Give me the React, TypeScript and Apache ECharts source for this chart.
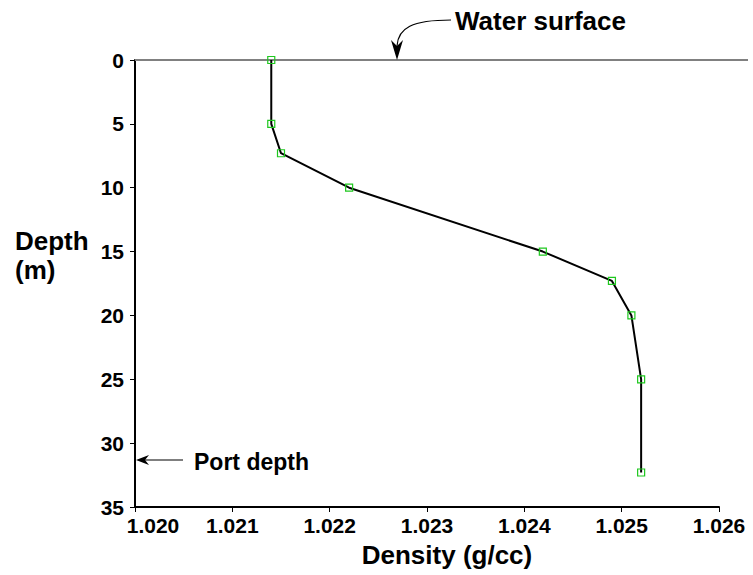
import React, { useEffect, useRef } from "react";
import * as echarts from "echarts";

const density = [1.0214, 1.0214, 1.0215, 1.0222, 1.02419, 1.0249, 1.0251, 1.0252, 1.0252];
const depth = [0, 5, 7.3, 10, 15, 17.3, 20, 25, 32.3];
const xTicks = { min: 1.02, max: 1.026, interval: 0.001 };
const yTicks = { min: 0, max: 35, interval: 5 };
const labels = {
  x: "Density (g/cc)",
  y: "Depth\n(m)",
  surface: "Water surface",
  port: "Port depth",
};

const FONT = "'Liberation Sans', Arial, sans-serif";

export default function App() {
  const ref = useRef<HTMLDivElement>(null);
  useEffect(() => {
    document.body.style.margin = "0";
    const chart = echarts.init(ref.current!, null, { renderer: "svg" });
    const data = density.map((d, i) => [d, depth[i]]);
    const tickFont = { color: "#000", fontFamily: FONT, fontWeight: "bold" as const, fontSize: 21 };
    chart.setOption({
      animation: false,
      backgroundColor: "#ffffff",
      grid: { left: 135, right: 34, top: 60, bottom: 68, containLabel: false },
      xAxis: {
        type: "value",
        min: xTicks.min,
        max: xTicks.max,
        interval: xTicks.interval,
        position: "bottom",
        axisLine: { show: true, onZero: false, lineStyle: { color: "#000", width: 2 } },
        axisTick: { show: true, inside: false, length: 5, lineStyle: { color: "#000", width: 1 } },
        splitLine: { show: false },
        axisLabel: {
          margin: 8,
          ...tickFont,
          formatter: (v: number) =>
            Math.abs(v - xTicks.min) < 1e-9 ? `{first|${v.toFixed(3)}}` : v.toFixed(3),
          rich: { first: { ...tickFont, padding: [0, 0, 0, 36] } },
        },
      },
      yAxis: {
        type: "value",
        inverse: true,
        min: yTicks.min,
        max: yTicks.max,
        interval: yTicks.interval,
        axisLine: { show: true, onZero: false, lineStyle: { color: "#000", width: 2 } },
        axisTick: { show: true, inside: false, length: 5, lineStyle: { color: "#000", width: 1 } },
        splitLine: { show: false },
        axisLabel: { margin: 11, ...tickFont },
      },
      series: [
        {
          type: "line",
          data,
          z: 5,
          symbol: "rect",
          symbolSize: 7,
          showAllSymbol: true,
          lineStyle: { color: "#000", width: 2 },
          itemStyle: { color: "transparent", borderColor: "#1ec81e", borderWidth: 1.2 },
        },
      ],
      graphic: [
        {
          type: "line",
          z: 1,
          shape: { x1: 135, y1: 60, x2: 748, y2: 60 },
          style: { stroke: "#808080", lineWidth: 2 },
        },
        {
          type: "bezierCurve",
          z: 10,
          shape: { x1: 451, y1: 20, cpx1: 412, cpy1: 20, cpx2: 398, cpy2: 28, x2: 397, y2: 46 },
          style: { stroke: "#000", lineWidth: 1.2, fill: "none" },
        },
        {
          type: "polygon",
          z: 10,
          shape: { points: [[397, 60], [391, 40], [397, 46], [403, 40]] },
          style: { fill: "#000" },
        },
        {
          type: "line",
          z: 10,
          shape: { x1: 183, y1: 460, x2: 142, y2: 460 },
          style: { stroke: "#000", lineWidth: 1.2 },
        },
        {
          type: "polygon",
          z: 10,
          shape: { points: [[136, 460], [149, 455], [145, 460], [149, 465]] },
          style: { fill: "#000" },
        },
        {
          type: "text",
          z: 10,
          x: 455,
          y: 21,
          style: {
            text: labels.surface,
            fill: "#000",
            font: `bold 26px ${FONT}`,
            textVerticalAlign: "middle",
            textAlign: "left",
          },
        },
        {
          type: "text",
          z: 10,
          x: 194,
          y: 462,
          style: {
            text: labels.port,
            fill: "#000",
            font: `bold 23px ${FONT}`,
            textVerticalAlign: "middle",
            textAlign: "left",
          },
        },
        {
          type: "text",
          z: 10,
          x: 447,
          y: 555,
          style: {
            text: labels.x,
            fill: "#000",
            font: `bold 26px ${FONT}`,
            textVerticalAlign: "middle",
            textAlign: "center",
          },
        },
        {
          type: "text",
          z: 10,
          x: 15,
          y: 226,
          style: {
            text: labels.y,
            fill: "#000",
            font: `bold 26px ${FONT}`,
            lineHeight: 29,
            textVerticalAlign: "top",
            textAlign: "left",
          },
        },
      ],
    });
    return () => chart.dispose();
  }, []);
  return <div ref={ref} style={{ width: 753, height: 575 }} />;
}
